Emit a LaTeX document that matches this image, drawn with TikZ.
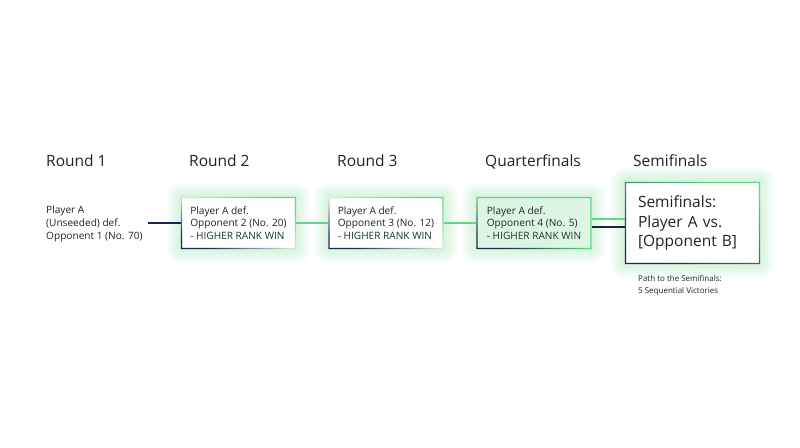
\documentclass[tikz,border=0pt]{standalone}
\usepackage{fontspec}
\setmainfont{Open Sans}
\usetikzlibrary{calc}
\definecolor{grn}{RGB}{98,214,130}
\definecolor{nvy}{RGB}{24,38,84}
\definecolor{ink}{RGB}{34,34,38}
\definecolor{wink}{RGB}{22,58,34}
\pgfdeclarelayer{bg}
\pgfsetlayers{bg,main}
\tikzset{
  hdr/.style={font=\fontsize{15.5}{19}\selectfont, text=ink, inner sep=0pt, anchor=base west},
  txt/.style={font=\fontsize{10.1}{12.7}\selectfont, text=ink, align=left, inner sep=0pt},
  rbox/.style={txt, minimum width=115pt, minimum height=52pt},
  link/.style={line width=1.4pt}
}
\newcommand\frameshade[2]{\shade[even odd rule, top color=grn, bottom color=nvy, middle color=#2, shading angle=-25]
  (#1.north west) rectangle (#1.south east)
  ([shift={(1.4pt,-1.4pt)}]#1.north west) rectangle ([shift={(-1.4pt,1.4pt)}]#1.south east);}
\newcommand\boxglow[2]{\foreach \g in {2,4,...,14}{\fill[grn, opacity=0.04, rounded corners=\g pt]
  ([shift={(-\g pt,\g pt)}]#1.north west) rectangle ([shift={(\g pt,-\g pt)}]#1.south east);}
  \fill[#2] (#1.north west) rectangle (#1.south east);}

\begin{document}
\begin{tikzpicture}[x=1pt,y=-1pt]
\useasboundingbox (0,0) rectangle (800,447);
\node[hdr] (h1) at (46,166) {Round 1};
\node[hdr] (h2) at (189,166) {Round 2};
\node[hdr] (h3) at (337,166) {Round 3};
\node[hdr] (h4) at (485,166) {Quarterfinals};
\node[hdr] (h5) at (633,166) {Semifinals};
\node[txt, anchor=west] (r1) at (46,224) {Player A\\(Unseeded) def.\\Opponent 1 (No. 70)};
\node[rbox] (r2) at (238.5,223) {Player A def.\\Opponent 2 (No. 20)\\\textcolor{wink}{- HIGHER RANK WIN}};
\node[rbox] (r3) at (386,223) {Player A def.\\Opponent 3 (No. 12)\\\textcolor{wink}{- HIGHER RANK WIN}};
\node[rbox] (r4) at (534,223) {Player A def.\\Opponent 4 (No. 5)\\\textcolor{wink}{- HIGHER RANK WIN}};
\node[txt, font=\fontsize{15.5}{19.5}\selectfont, text width=109pt, inner xsep=13pt, minimum height=82pt] (r5) at (692.5,223) {Semifinals:\\Player A vs.\\{[Opponent B]}};
\node[txt, font=\fontsize{8}{11.7}\selectfont, anchor=base west] (note) at (638,293.4) {Path to the Semifinals:\\5 Sequential Victories};
\begin{pgfonlayer}{bg}
  \boxglow{r2}{white}
  \boxglow{r3}{white}
  \boxglow{r4}{grn!22}
  \boxglow{r5}{white}
  \frameshade{r2}{black!12}
  \frameshade{r3}{black!12}
  \frameshade{r4}{grn}
  \frameshade{r5}{grn!50!nvy}
\end{pgfonlayer}
\draw[link, nvy] ($(r1.east |- r2.west)+(5,0)$) -- (r2.west);
\draw[link, grn] (r2.east) -- (r3.west);
\draw[link, grn] (r3.east) -- (r4.west);
\draw[link, grn] ($(r4.east)+(0,-4)$) -- ($(r5.west)+(0,-4)$);
\draw[link, nvy] ($(r4.east)+(0,4)$) -- ($(r5.west)+(0,4)$);
\end{tikzpicture}
\end{document}
